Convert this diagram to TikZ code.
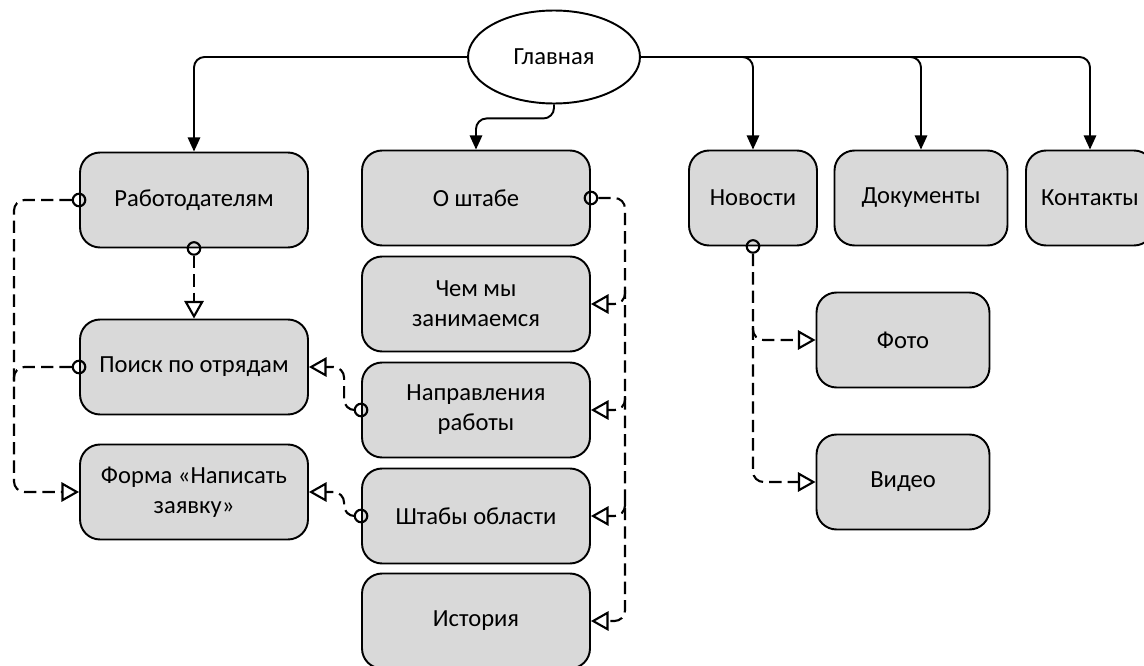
\documentclass[tikz,border=0pt]{standalone}
\usepackage{fontspec}
\setmainfont{Carlito}
\usetikzlibrary{arrows.meta,shapes.geometric}
\definecolor{pagegray}{HTML}{D9D9D9}

\begin{document}
\begin{tikzpicture}[x=0.02cm,y=-0.02cm,font=\fontsize{14}{17}\selectfont]
\useasboundingbox (0,0) rectangle (1144,666);

\begin{scope} % pages of the site
  [page/.style={draw,fill=pagegray,line width=1.1pt,rounded corners=0.4cm,
    minimum height=1.9cm,align=center,inner sep=2pt},
   wide/.style={page,minimum width=4.56cm},
   mid/.style={page,minimum width=3.46cm},
   slim/.style={page,minimum width=2.56cm}]
  \node (glav) at (554,57) [ellipse,draw,fill=white,line width=1.1pt,
    minimum width=3.44cm,minimum height=1.86cm,inner sep=0pt] {Главная};
  \node (rab) at (194,200) [wide] {Работодателям};
  \node (poisk) at (194,367) [wide] {Поиск по отрядам};
  \node (forma) at (194,492) [wide] {Форма «Написать\\заявку»};
  \node (osh) at (476,198) [wide] {О штабе};
  \node (chem) at (476,304) [wide] {Чем мы\\занимаемся};
  \node (napr) at (476,410) [wide] {Направления\\работы};
  \node (shtab) at (476,516) [wide] {Штабы области};
  \node (ist) at (476,621) [wide] {История};
  \node (news) at (753,198) [slim] {Новости};
  \node (docs) at (921,198) [mid] {Документы};
  \node (kont) at (1090,198) [slim] {Контакты};
  \node (foto) at (903,340) [mid] {Фото};
  \node (video) at (903,482) [mid] {Видео};
\end{scope}

\begin{scope} % link origins
  [dot/.style={circle,draw,line width=1.2pt,minimum size=0.25cm,inner sep=0pt}]
  \node (rabw) at (rab.west) [dot] {};
  \node (rabs) at (rab.south) [dot] {};
  \node (poiskw) at (poisk.west) [dot] {};
  \node (naprw) at (napr.west) [dot] {};
  \node (shtabw) at (shtab.west) [dot] {};
  \node (oshe) at (osh.east) [dot] {};
  \node (newss) at (news.south) [dot] {};
\end{scope}

\begin{scope}[line width=1.1pt,rounded corners=6pt,
  -{Triangle[length=8pt,width=7pt]}] % main menu links
  \draw (glav.west) -| (rab.north);
  \draw (glav.south) -- ++(0,14) -| (osh.north);
  \draw (glav.east) -| (news.north);
  \draw (glav.east) -| (docs.north);
  \draw (glav.east) -| (kont.north);
\end{scope}

\begin{scope}[line width=1.2pt,rounded corners=6pt,
  dash pattern=on 7pt off 3.5pt,
  sub/.style={-{Triangle[open,length=10pt,width=11pt]}}] % inner links
  \coordinate (lp) at (14,382);
  \coordinate (r1) at (625,290);
  \coordinate (r2) at (625,396);
  \coordinate (r3) at (625,502);
  \coordinate (nf) at (753,326);

  \draw[sub] (rabw) -- (14,200) |- (forma.west);
  \draw (poiskw) -| (lp);
  \draw[sub] (rabs) -- (poisk.north);
  \draw[sub] (naprw) -- ++(-17,0) |- (poisk.east);
  \draw[sub] (shtabw) -- ++(-17,0) |- (forma.east);

  \draw[sub] (oshe) -- (625,198) |- (ist.east);
  \draw[sub] (r1) |- (chem.east);
  \draw[sub] (r2) |- (napr.east);
  \draw[sub] (r3) |- (shtab.east);

  \draw[sub] (newss) |- (video.west);
  \draw[sub] (nf) |- (foto.west);
\end{scope}

\end{tikzpicture}
\end{document}
